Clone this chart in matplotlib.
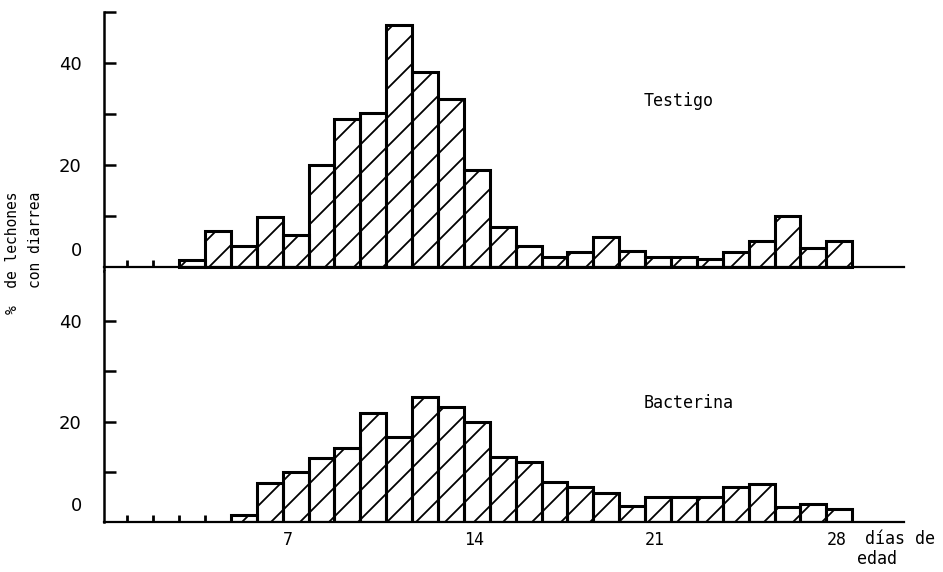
import numpy as np
import matplotlib
matplotlib.use("Agg")
import matplotlib.pyplot as plt
from matplotlib.collections import LineCollection

# % of piglets with diarrhoea per day of age (bars span [day, day + 1])
testigo_days = list(range(3, 29))
testigo_vals = [1.4, 7.0, 4.1, 9.8, 6.3, 20.0, 29.0, 30.2, 47.5, 38.2, 32.9, 19.0, 7.8,
                4.1, 2.0, 2.9, 5.9, 3.1, 2.0, 2.0, 1.6, 2.9, 5.1, 10.0, 3.7, 5.1]

bacterina_days = list(range(5, 29))
bacterina_vals = [1.4, 7.8, 9.9, 12.7, 14.7, 21.7, 16.9, 25.0, 23.0, 19.9, 12.9, 11.9,
                  8.0, 7.0, 5.8, 3.2, 5.0, 5.0, 5.0, 7.0, 7.5, 3.0, 3.6, 2.6]

x_ticks = [7, 14, 21, 28]
x_tick_labels = ["7", "14", "21", "28"]
small_ticks = [1, 2, 3, 4]

MONO = ["DejaVu Sans Mono"]
NARROW = ["Liberation Sans Narrow", "DejaVu Sans"]
W, H = 943, 572

fig = plt.figure(figsize=(W / 100, H / 100), dpi=100)


def px_axes(x0, y0, x1, y1):
    """Axes from pixel box (top-left origin)."""
    return fig.add_axes([x0 / W, 1 - y1 / H, (x1 - x0) / W, (y1 - y0) / H])


ax_top = px_axes(104, 12, 904, 271)
ax_bot = px_axes(104, 271, 904, 522)


def add_hatch(ax, bars, spacing=29):
    # sparse 45 degree hatching, one global pattern clipped to each bar
    bb = ax.bbox
    cs = np.arange(-bb.width - bb.height, bb.width + bb.height, spacing)
    inv = ax.transData.inverted()
    segs = []
    for c in cs:
        p0 = (bb.x0 + c, bb.y0)
        p1 = (bb.x0 + c + bb.height, bb.y1)
        segs.append(inv.transform([p0, p1]))
    for b in bars:
        lc = LineCollection(segs, colors="black", linewidths=1.3, zorder=1.5)
        ax.add_collection(lc, autolim=False)
        lc.set_clip_path(b)


def panel(ax, days, vals, ymin, yticks, label, label_y):
    ax.set_xlim(0.1, 31.0)
    ax.set_ylim(ymin, 50)
    for s in ["top", "right"]:
        ax.spines[s].set_visible(False)
    ax.spines["left"].set_linewidth(1.8)
    ax.spines["bottom"].set_linewidth(1.6)
    ax.spines["bottom"].set_position(("data", 0))

    bars = ax.bar(days, vals, width=1, align="edge", facecolor="white",
                  edgecolor="none", zorder=1)
    add_hatch(ax, bars)
    ax.bar(days, vals, width=1, align="edge", fill=False, edgecolor="black",
           linewidth=2.2, zorder=2)

    ax.set_yticks(yticks)
    ax.set_yticklabels(["20" if t == 20 else "40" if t == 40 else "" for t in yticks],
                       family=NARROW, fontsize=13)
    ax.tick_params(axis="y", direction="in", length=8.5, width=1.8, pad=16)
    ax.text(-0.0275, 3.2, "0", transform=ax.get_yaxis_transform(), ha="right",
            va="center", family=NARROW, fontsize=13)

    ax.set_xticks(small_ticks)
    ax.set_xticklabels([])
    ax.tick_params(axis="x", direction="in", length=5, width=2)

    ax.text(644 / W, label_y, label, transform=fig.transFigure, family=MONO,
            fontsize=12, ha="left", va="center")


panel(ax_top, testigo_days, testigo_vals, -0.78, [10, 20, 30, 40, 50],
      "Testigo", 1 - 101 / H)
panel(ax_bot, bacterina_days, bacterina_vals, 0, [10, 20, 30, 40],
      "Bacterina", 1 - 403 / H)

# day labels, left-aligned at their tick
ax_bot.set_xticks(x_ticks, minor=True)
ax_bot.set_xticklabels(x_tick_labels, minor=True, family=MONO, fontsize=12, ha="left")
ax_bot.tick_params(axis="x", which="minor", length=0, pad=6.5)

fig.text(865 / W, 1 - 539 / H, "días de", family=MONO, fontsize=12,
         ha="left", va="center")
fig.text(857 / W, 1 - 559 / H, "edad", family=MONO, fontsize=12,
         ha="left", va="center")

fig.text(24 / W, 1 - 192 / H, "%  de lechones\ncon diarrea", rotation=90,
         family=MONO, fontsize=10.5, ha="center", va="top",
         multialignment="right", linespacing=1.6)

fig.savefig("out.png", dpi=100)
